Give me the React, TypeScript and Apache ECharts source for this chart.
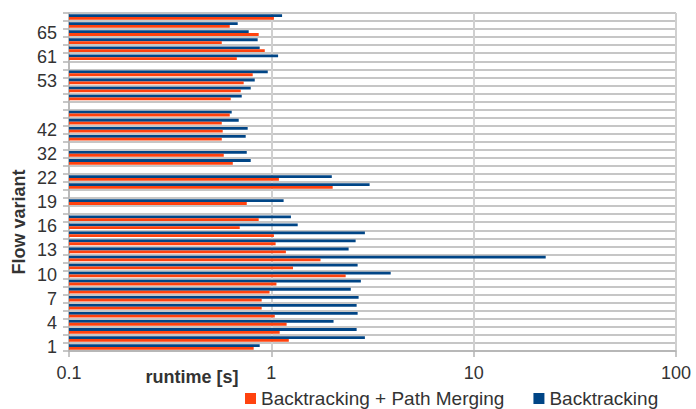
import React, { useEffect, useRef } from "react";
import * as echarts from "echarts";

// Flow variants (bottom to top); only every third label is shown, the empty row has no label
const categories: string[] = [
  "1", "2", "3", "4", "5", "6", "7", "8", "9", "10",
  "11", "12", "13", "14", "15", "16", "17", "18", "19", "20",
  "21", "22", "26", "29", "32", "35", "39", "42", "45", "49",
  "", "51", "52", "53", "59", "60", "61", "63", "64", "65",
  "66", "67",
];

// runtime [s]
const backtracking: (number | null)[] = [
  0.876, 2.9, 2.64, 2.03, 2.67, 2.64, 2.7, 2.47, 2.77, 3.89,
  2.67, 22.7, 2.41, 2.61, 2.9, 1.35, 1.25, null, 1.15, null,
  3.06, 1.99, null, 0.791, 0.756, null, 0.747, 0.764, 0.69, 0.637,
  null, 0.714, 0.791, 0.828, 0.96, null, 1.08, 0.876, 0.856, 0.773,
  0.682, 1.13,
];

const pathMerging: (number | null)[] = [
  0.818, 1.22, 1.1, 1.19, 1.04, 0.896, 0.896, 0.98, 1.06, 2.33,
  1.28, 1.75, 1.18, 1.05, 1.03, 0.698, 0.866, null, 0.756, null,
  2.01, 1.09, null, 0.645, 0.582, null, 0.569, 0.575, 0.569, 0.623,
  null, 0.63, 0.706, 0.73, 0.809, null, 0.675, 0.928, 0.569, 0.866,
  0.623, 1.03,
];

const xTicks = [0.1, 1, 10, 100];

const BLUE = "#004586";
const ORANGE = "#ff420e";
const FONT = "Liberation Sans";

export default function App() {
  const ref = useRef<HTMLDivElement>(null);
  useEffect(() => {
    if (!ref.current) return;
    const chart = echarts.init(ref.current, undefined, { renderer: "svg" });
    chart.setOption({
      animation: false,
      textStyle: { fontFamily: FONT },
      grid: { left: 69, right: 20, top: 13, bottom: 58, containLabel: false },
      legend: {
        data: ["Backtracking + Path Merging", "Backtracking"],
        left: 245,
        top: 389,
        padding: 0,
        icon: "rect",
        itemWidth: 11,
        itemHeight: 11,
        itemGap: 29,
        textStyle: { fontSize: 19, color: "#333", fontFamily: FONT },
      },
      xAxis: {
        type: "log",
        logBase: 10,
        min: xTicks[0],
        max: xTicks[xTicks.length - 1],
        startValue: 0.1,
        axisLine: { show: true, lineStyle: { color: "#b3b3b3", width: 1.5 } },
        axisTick: { show: true, length: 6, lineStyle: { color: "#b3b3b3", width: 1.5 } },
        axisLabel: {
          fontSize: 18,
          color: "#333",
          margin: 13,
          fontFamily: FONT,
          formatter: (v: number) => (v < 1 ? String(Number(v.toFixed(1))) : String(Math.round(v))),
        },
        splitLine: { show: true, lineStyle: { color: "#d0d0d0", width: 2 } },
        minorTick: { show: false },
      },
      yAxis: {
        type: "category",
        data: categories,
        boundaryGap: true,
        axisLine: { show: true, lineStyle: { color: "#b3b3b3", width: 1.5 } },
        axisTick: { show: true, interval: 0, length: 6, lineStyle: { color: "#b3b3b3", width: 1.5 } },
        axisLabel: {
          interval: (index: number) => index % 3 === 0 && index !== 30,
          fontSize: 18,
          color: "#333",
          margin: 12,
          fontFamily: FONT,
        },
        splitLine: { show: true, interval: 0, lineStyle: { color: "#b3b3b3", width: 1.5 } },
      },
      graphic: [
        {
          type: "text",
          x: 192,
          y: 377,
          style: {
            text: "runtime [s]",
            font: `bold 18px ${FONT}`,
            fill: "#333",
            textAlign: "center",
            textVerticalAlign: "middle",
          },
        },
        {
          type: "text",
          x: 19,
          y: 222,
          rotation: Math.PI / 2,
          style: {
            text: "Flow variant",
            font: `bold 18px ${FONT}`,
            fill: "#333",
            textAlign: "center",
            textVerticalAlign: "middle",
          },
        },
      ],
      series: [
        {
          name: "Backtracking",
          type: "bar",
          data: backtracking,
          barWidth: 2.8,
          barGap: "0%",
          itemStyle: { color: BLUE },
        },
        {
          name: "Backtracking + Path Merging",
          type: "bar",
          data: pathMerging,
          barWidth: 2.8,
          barGap: "0%",
          itemStyle: { color: ORANGE },
        },
      ],
    });
    return () => chart.dispose();
  }, []);
  return (
    <div
      ref={ref}
      style={{ position: "fixed", left: 0, top: 0, width: 696, height: 409, background: "#fff" }}
    />
  );
}
